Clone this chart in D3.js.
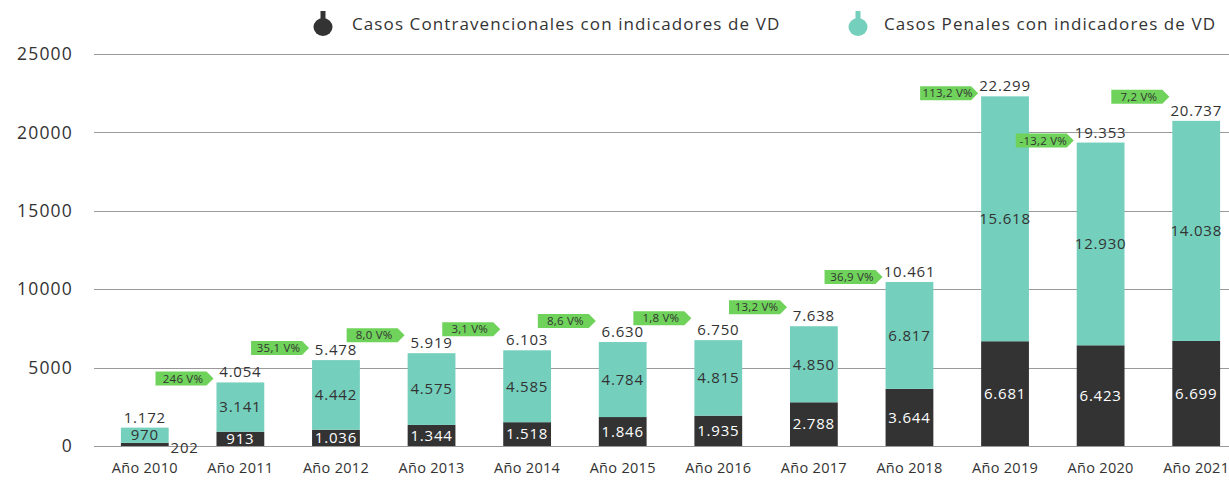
<!DOCTYPE html>
<html>
<head>
<meta charset="utf-8">
<script src="https://cdn.jsdelivr.net/npm/d3@7"></script>
<style>
  html, body { margin: 0; padding: 0; background: #fff; }
  svg { display: block; font-family: "Open Sans", "Noto Sans", sans-serif; }
</style>
</head>
<body>
<svg id="chart" width="1229" height="480"></svg>
<script>
// Yearly cases with domestic-violence indicators
const years = ["Año 2010","Año 2011","Año 2012","Año 2013","Año 2014","Año 2015",
               "Año 2016","Año 2017","Año 2018","Año 2019","Año 2020","Año 2021"];
const contravencionales = [202, 913, 1036, 1344, 1518, 1846, 1935, 2788, 3644, 6681, 6423, 6699];
const penales = [970, 3141, 4442, 4575, 4585, 4784, 4815, 4850, 6817, 15618, 12930, 14038];
const totals = [1172, 4054, 5478, 5919, 6103, 6630, 6750, 7638, 10461, 22299, 19353, 20737];
const variation = [null, "246 V%", "35,1 V%", "8,0 V%", "3,1 V%", "8,6 V%", "1,8 V%",
                   "13,2 V%", "36,9 V%", "113,2 V%", "-13,2 V%", "7,2 V%"];
const yTicks = [0, 5000, 10000, 15000, 20000, 25000];
const seriesNames = ["Casos Contravencionales con indicadores de VD", "Casos Penales con indicadores de VD"];

// Layout: vertical lift (px) of each variation badge above its bar top
const badgeLift = [0, 4, 12, 18, 21, 21, 22, 19, 5, 3, 2, 24];

const DARK = "#333333", TEAL = "#74cfbd", GREEN = "#6fd25a", GRID = "#9a9a9a", TEXT = "#333333";

const svg = d3.select("#chart");
const fmt = v => d3.format(",")(v).replace(/,/g, ".");

const x = d3.scaleBand().domain(years).range([97, 1244]).paddingInner(0.5).paddingOuter(0.25);
const y = d3.scaleLinear().domain([0, 25000]).range([446, 54]);

// Gridlines and y labels
const yAxis = d3.axisLeft(y).tickValues(yTicks).tickSize(0).tickPadding(0).tickFormat(d => d);
const yg = svg.append("g").attr("transform", "translate(73,0)").call(yAxis);
yg.select(".domain").remove();
yg.selectAll("text").attr("font-size", 17.5).attr("fill", TEXT)
  .attr("letter-spacing", "1.2px").attr("font-family", "'Open Sans', sans-serif");

svg.append("g").selectAll("line").data(yTicks).join("line")
  .attr("x1", 94).attr("x2", 1229)
  .attr("y1", d => Math.round(y(d)) + 0.5).attr("y2", d => Math.round(y(d)) + 0.5)
  .attr("stroke", GRID).attr("stroke-width", 1);

// Stacked bars
const rows = years.map((yr, i) => ({ yr, c: contravencionales[i], p: penales[i], t: totals[i], i }));
const stack = d3.stack().keys(["c", "p"])(rows);
const colors = { c: DARK, p: TEAL };

svg.append("g").selectAll("g").data(stack).join("g")
  .attr("fill", d => colors[d.key])
  .selectAll("rect").data(d => d).join("rect")
  .attr("x", d => x(d.data.yr))
  .attr("width", x.bandwidth())
  .attr("y", d => y(d[1]))
  .attr("height", d => y(d[0]) - y(d[1]));

// Segment labels
const lbl = svg.append("g").attr("text-anchor", "middle").attr("font-size", 15)
  .attr("letter-spacing", "0.8px");

rows.forEach(r => {
  const cx = x(r.yr) + x.bandwidth() / 2;
  // Penales (teal) segment
  lbl.append("text").attr("x", cx).attr("y", (y(r.c) + y(r.c + r.p)) / 2).attr("dy", "0.35em")
    .attr("fill", TEXT).text(fmt(r.p));
  // Contravencionales (dark) segment
  if (r.i === 0) {
    lbl.append("text").attr("x", x(r.yr) + x.bandwidth() + 16).attr("y", y(0) + 2).attr("dy", "0.35em")
      .attr("fill", TEXT).text(fmt(r.c));
  } else {
    lbl.append("text").attr("x", cx).attr("y", (y(0) + y(r.c)) / 2).attr("dy", "0.35em")
      .attr("fill", "#ffffff").text(fmt(r.c));
  }
  // Total
  lbl.append("text").attr("x", cx).attr("y", y(r.t) - 5)
    .attr("fill", TEXT).text(fmt(r.t));
});

// Variation badges
const badges = svg.append("g");
rows.forEach(r => {
  if (!variation[r.i]) return;
  const tip = x(r.yr) - 3;
  const cy = y(r.t) - badgeLift[r.i];
  const w = 51, h = 14, pt = 7;
  const left = tip - pt - w;
  badges.append("path")
    .attr("d", `M${left},${cy - h / 2} H${left + w} L${tip},${cy} L${left + w},${cy + h / 2} H${left} Z`)
    .attr("fill", GREEN);
  badges.append("text").attr("x", left + w / 2 + 2).attr("y", cy).attr("dy", "0.36em")
    .attr("text-anchor", "middle").attr("font-size", 11.5).attr("fill", TEXT)
    .attr("letter-spacing", "0.2px").text(variation[r.i]);
});

// X axis labels
const xAxis = d3.axisBottom(x).tickSize(0).tickPadding(0);
const xg = svg.append("g").attr("transform", "translate(0,468)").call(xAxis);
xg.select(".domain").remove();
xg.selectAll("text").attr("y", 0).attr("dy", "0.35em")
  .attr("font-size", 14.5).attr("fill", TEXT).attr("letter-spacing", "0.3px")
  .attr("font-family", "'Open Sans', sans-serif");

// Legend
const legend = svg.append("g");
const legendItems = [
  { name: seriesNames[0], color: DARK, ix: 323, tx: 352 },
  { name: seriesNames[1], color: TEAL, ix: 858, tx: 884 }
];
legendItems.forEach(d => {
  const g = legend.append("g").attr("fill", d.color);
  g.append("rect").attr("x", d.ix - 2.5).attr("y", 11).attr("width", 5).attr("height", 10);
  g.append("ellipse").attr("cx", d.ix).attr("cy", 27).attr("rx", 9.5).attr("ry", 9);
  legend.append("text").attr("x", d.tx).attr("y", 24).attr("dy", "0.35em")
    .attr("font-size", 17).attr("fill", TEXT).attr("letter-spacing", "1.1px").text(d.name);
});
</script>
</body>
</html>
